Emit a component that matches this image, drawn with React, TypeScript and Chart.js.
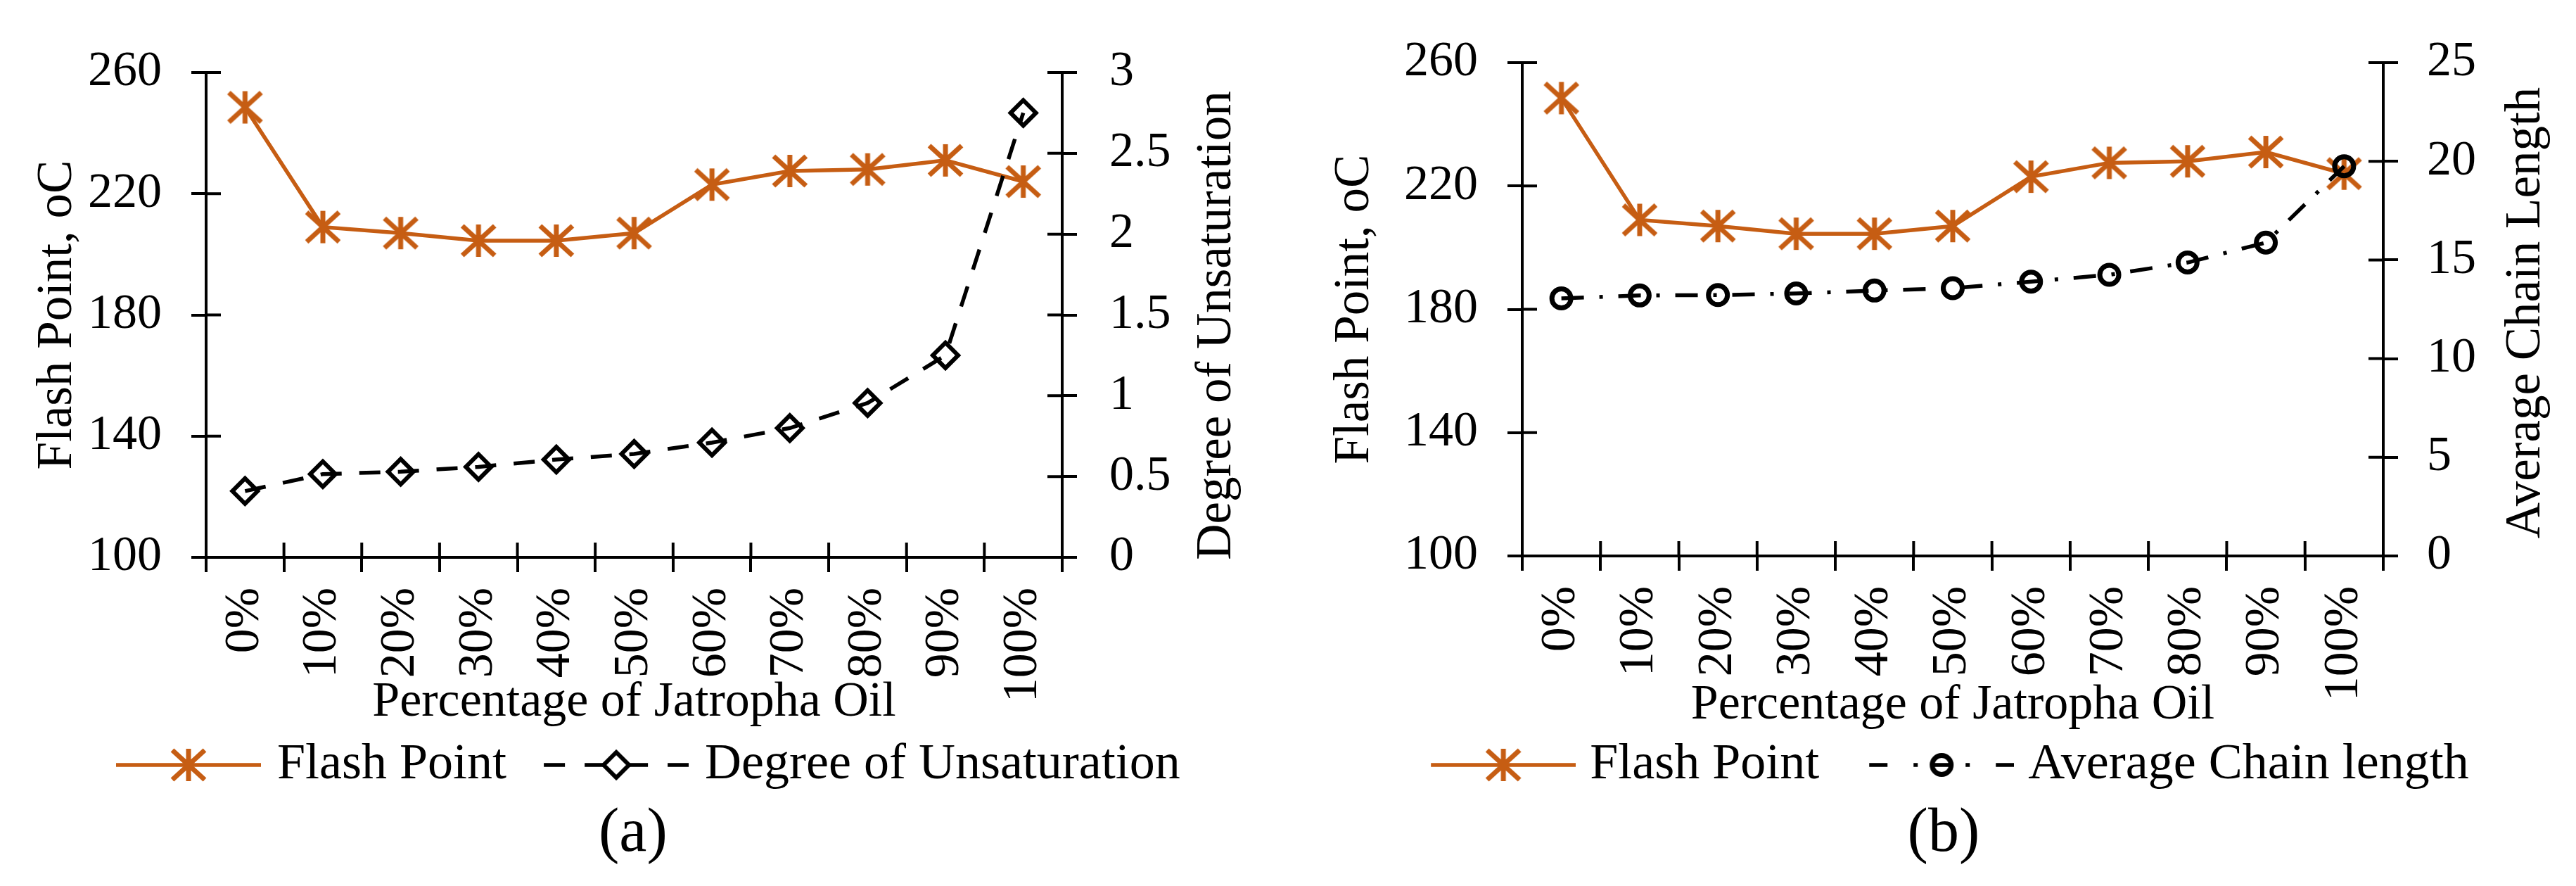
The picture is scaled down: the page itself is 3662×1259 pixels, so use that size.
import React, { useEffect, useRef } from 'react';
import { Chart, registerables } from 'chart.js';

Chart.register(...registerables);

// ---------------- data ----------------
const categories = ['0%', '10%', '20%', '30%', '40%', '50%', '60%', '70%', '80%', '90%', '100%'];
const flashPoint = [248.5, 209, 207, 204.5, 204.5, 207, 223, 227.5, 228, 231, 224];
const degreeOfUnsaturation = [0.41, 0.515, 0.53, 0.56, 0.605, 0.64, 0.71, 0.8, 0.955, 1.25, 2.75];
const averageChainLength = [13.05, 13.2, 13.22, 13.3, 13.45, 13.57, 13.9, 14.25, 14.87, 15.88, 19.75];

const flashAxisTicks = { min: 100, max: 260, step: 40 };
const unsaturationAxisTicks = { min: 0, max: 3, step: 0.5 };
const chainAxisTicks = { min: 0, max: 25, step: 5 };

// ---------------- style ----------------
const FONT = "'Liberation Serif', 'Times New Roman', serif";
const ORANGE = '#C65D13';
const BLACK = '#000000';
const W = 1831;
const H = 1259;
const SAMPLE_LEN = 206;
const LEGEND_H = 64;

function makeCanvas(w: number, h: number) {
  const c = document.createElement('canvas');
  c.width = w;
  c.height = h;
  return c;
}

function strokeStar(g: CanvasRenderingContext2D, cx: number, cy: number) {
  g.save();
  g.strokeStyle = ORANGE;
  g.lineWidth = 7;
  g.lineCap = 'butt';
  g.beginPath();
  g.moveTo(cx, cy - 23);
  g.lineTo(cx, cy + 23);
  g.moveTo(cx - 23, cy - 21);
  g.lineTo(cx + 23, cy + 21);
  g.moveTo(cx - 23, cy + 21);
  g.lineTo(cx + 23, cy - 21);
  g.stroke();
  g.restore();
}

function makeStarPoint() {
  const c = makeCanvas(60, 60);
  strokeStar(c.getContext('2d')!, 30, 30);
  return c;
}

function seg(g: CanvasRenderingContext2D, sx: number, a: number, b: number, y: number) {
  g.beginPath();
  g.moveTo(sx + a, y);
  g.lineTo(sx + b, y);
  g.stroke();
}

function legendFlash(imgW: number, sx: number) {
  const c = makeCanvas(imgW, LEGEND_H);
  const g = c.getContext('2d')!;
  const y = LEGEND_H / 2;
  g.strokeStyle = ORANGE;
  g.lineWidth = 5.5;
  seg(g, sx, 0, SAMPLE_LEN, y);
  strokeStar(g, sx + SAMPLE_LEN / 2, y);
  return c;
}

function legendUnsat(imgW: number, sx: number) {
  const c = makeCanvas(imgW, LEGEND_H);
  const g = c.getContext('2d')!;
  const y = LEGEND_H / 2;
  g.strokeStyle = BLACK;
  g.lineWidth = 5.5;
  seg(g, sx, 0, 30, y);
  seg(g, sx, 58, 85, y);
  seg(g, sx, 121, 148, y);
  seg(g, sx, 176, 206, y);
  const cx = sx + SAMPLE_LEN / 2;
  const r = 18;
  g.lineWidth = 6;
  g.beginPath();
  g.moveTo(cx, y - r);
  g.lineTo(cx + r, y);
  g.lineTo(cx, y + r);
  g.lineTo(cx - r, y);
  g.closePath();
  g.stroke();
  return c;
}

function legendChain(imgW: number, sx: number) {
  const c = makeCanvas(imgW, LEGEND_H);
  const g = c.getContext('2d')!;
  const y = LEGEND_H / 2;
  g.strokeStyle = BLACK;
  g.lineWidth = 5.5;
  seg(g, sx, 0, 26, y);
  seg(g, sx, 63, 69, y);
  seg(g, sx, 89, 117, y);
  seg(g, sx, 137, 143, y);
  seg(g, sx, 180, 206, y);
  g.lineWidth = 7;
  g.beginPath();
  g.arc(sx + SAMPLE_LEN / 2, y, 13.5, 0, Math.PI * 2);
  g.stroke();
  return c;
}

// ---------------- plugin: inner tick marks + right axis title ----------------
const axisExtras = {
  id: 'axisExtras',
  beforeDatasetsDraw(chart: any, _args: any, opts: any) {
    const ctx = chart.ctx;
    const ca = chart.chartArea;
    const len = opts.inner || 0;
    ctx.save();
    ctx.strokeStyle = BLACK;
    ctx.lineWidth = 4;
    ctx.beginPath();
    ['y', 'y1'].forEach((id) => {
      const s = chart.scales[id];
      if (!s) return;
      const left = s.position === 'left';
      const x0 = left ? ca.left : ca.right;
      s.ticks.forEach((t: any) => {
        const y = s.getPixelForValue(t.value);
        ctx.moveTo(x0, y);
        ctx.lineTo(x0 + (left ? len : -len), y);
      });
    });
    const xs = chart.scales.x;
    const n = xs.ticks.length;
    for (let i = 0; i <= n; i++) {
      const x = xs.left + (xs.width * i) / n;
      ctx.moveTo(x, ca.bottom);
      ctx.lineTo(x, ca.bottom - len);
    }
    ctx.stroke();
    ctx.restore();
  },
  afterDraw(chart: any, _args: any, opts: any) {
    const s = chart.scales.y1;
    if (!s || !opts.rightTitle) return;
    const ca = chart.chartArea;
    const ctx = chart.ctx;
    ctx.save();
    ctx.font = `normal ${opts.titleSize}px ${FONT}`;
    ctx.fillStyle = BLACK;
    ctx.textAlign = 'center';
    ctx.textBaseline = 'alphabetic';
    ctx.translate(s.left + opts.rightTitleOffset, (ca.top + ca.bottom) / 2 + (opts.rightTitleShift || 0));
    ctx.rotate(-Math.PI / 2);
    ctx.fillText(opts.rightTitle, 0, 0);
    ctx.restore();
  },
};

// ---------------- panels ----------------
type Geo = {
  padL: number; padR: number; padT: number;
  leftW: number; rightW: number; xH: number; xTitlePad: number;
  leftTickPad: number; rightTickPad: number;
  rightTitleOffset: number; rightTitleShift: number;
  legendPad: number; legendBox: number; legendImgW: number; legendSampleX: number;
};

type PanelSpec = {
  caption: string;
  secondTitle: string;
  secondLegend: string;
  secondData: number[];
  secondTicks: { min: number; max: number; step: number };
  kind: 'unsat' | 'chain';
  geo: Geo;
};

const panels: PanelSpec[] = [
  {
    caption: '(a)',
    secondTitle: 'Degree of Unsaturation',
    secondLegend: 'Degree of Unsaturation',
    secondData: degreeOfUnsaturation,
    secondTicks: unsaturationAxisTicks,
    kind: 'unsat',
    geo: {
      padL: 39.8, padR: 71, padT: 103, leftW: 253.2, rightW: 250, xH: 249, xTitlePad: 0,
      leftTickPad: 42, rightTickPad: 46, rightTitleOffset: 239, rightTitleShift: 15,
      legendPad: 10, legendBox: 236, legendImgW: 262, legendSampleX: 56,
    },
  },
  {
    caption: '(b)',
    secondTitle: 'Average Chain Length',
    secondLegend: 'Average Chain length',
    secondData: averageChainLength,
    secondTicks: chainAxisTicks,
    kind: 'chain',
    geo: {
      padL: 52.8, padR: 20, padT: 89, leftW: 280.2, rightW: 254, xH: 208, xTitlePad: -47,
      leftTickPad: 42, rightTickPad: 41, rightTitleOffset: 222, rightTitleShift: 5,
      legendPad: 53, legendBox: 208, legendImgW: 240, legendSampleX: 34,
    },
  },
];

function axisCommon() {
  return {
    border: { display: true, color: BLACK, width: 4 },
    grid: {
      display: true,
      drawOnChartArea: false,
      drawTicks: true,
      tickLength: 21,
      tickWidth: 4,
      tickColor: BLACK,
      color: BLACK,
      lineWidth: 4,
    },
  };
}

function buildConfig(spec: PanelSpec): any {
  const g = spec.geo;
  const star = makeStarPoint();
  const secondDataset =
    spec.kind === 'unsat'
      ? {
          label: spec.secondLegend,
          data: spec.secondData,
          yAxisID: 'y1',
          order: 0,
          borderColor: BLACK,
          borderWidth: 5.5,
          borderDash: [30, 25],
          pointStyle: 'rectRot',
          pointRadius: 18,
          pointBorderWidth: 6,
          pointBorderColor: BLACK,
          pointBackgroundColor: 'rgba(0,0,0,0)',
          tension: 0,
          fill: false,
        }
      : {
          label: spec.secondLegend,
          data: spec.secondData,
          yAxisID: 'y1',
          order: 0,
          borderColor: BLACK,
          borderWidth: 5.5,
          borderDash: [32, 22, 5, 22],
          pointStyle: 'circle',
          pointRadius: 13.5,
          pointBorderWidth: 7,
          pointBorderColor: BLACK,
          pointBackgroundColor: 'rgba(0,0,0,0)',
          tension: 0,
          fill: false,
        };

  const legendImages = [
    legendFlash(g.legendImgW, g.legendSampleX),
    spec.kind === 'unsat'
      ? legendUnsat(g.legendImgW, g.legendSampleX)
      : legendChain(g.legendImgW, g.legendSampleX),
  ];
  const legendTexts = ['Flash Point', spec.secondLegend];

  return {
    type: 'line',
    data: {
      labels: categories,
      datasets: [
        {
          label: 'Flash Point',
          data: flashPoint,
          yAxisID: 'y',
          order: 1,
          borderColor: ORANGE,
          borderWidth: 5.5,
          pointStyle: star,
          pointRadius: 25,
          pointBorderColor: ORANGE,
          pointBackgroundColor: ORANGE,
          tension: 0,
          fill: false,
        },
        secondDataset,
      ],
    },
    options: {
      animation: false,
      responsive: false,
      maintainAspectRatio: false,
      devicePixelRatio: 1,
      events: [],
      layout: { padding: { left: g.padL, right: g.padR, top: g.padT, bottom: 0 } },
      scales: {
        x: {
          ...axisCommon(),
          type: 'category',
          offset: true,
          grid: { ...axisCommon().grid, offset: true },
          afterFit: (s: any) => { s.height = g.xH; },
          ticks: {
            autoSkip: false,
            minRotation: 90,
            maxRotation: 90,
            padding: 22,
            color: BLACK,
            font: { family: FONT, size: 70 },
          },
          title: {
            display: true,
            text: 'Percentage of Jatropha Oil',
            color: BLACK,
            font: { family: FONT, size: 70, weight: 'normal' },
            padding: { top: 0, bottom: g.xTitlePad },
          },
        },
        y: {
          ...axisCommon(),
          type: 'linear',
          position: 'left',
          min: flashAxisTicks.min,
          max: flashAxisTicks.max,
          afterFit: (s: any) => { s.width = g.leftW; },
          ticks: {
            stepSize: flashAxisTicks.step,
            padding: g.leftTickPad,
            color: BLACK,
            font: { family: FONT, size: 70 },
            callback: (v: any) => String(v),
          },
          title: {
            display: true,
            text: 'Flash Point, oC',
            color: BLACK,
            font: { family: FONT, size: 71, weight: 'normal' },
            padding: { top: 0, bottom: 0 },
          },
        },
        y1: {
          ...axisCommon(),
          type: 'linear',
          position: 'right',
          min: spec.secondTicks.min,
          max: spec.secondTicks.max,
          afterFit: (s: any) => { s.width = g.rightW; },
          ticks: {
            stepSize: spec.secondTicks.step,
            padding: g.rightTickPad,
            color: BLACK,
            font: { family: FONT, size: 70 },
            callback: (v: any) => String(v),
          },
          title: { display: false },
        },
      },
      plugins: {
        tooltip: { enabled: false },
        legend: {
          display: true,
          position: 'bottom',
          labels: {
            usePointStyle: true,
            pointStyleWidth: g.legendBox,
            padding: g.legendPad,
            color: BLACK,
            font: { family: FONT, size: 72, weight: 'normal' },
            generateLabels: () =>
              legendTexts.map((t, i) => ({
                text: t,
                pointStyle: legendImages[i],
                fillStyle: 'rgba(0,0,0,0)',
                strokeStyle: 'rgba(0,0,0,0)',
                lineWidth: 0,
                hidden: false,
                datasetIndex: i,
                fontColor: BLACK,
              })),
          },
        },
        title: {
          display: true,
          position: 'bottom',
          text: spec.caption,
          color: BLACK,
          font: { family: FONT, size: 88, weight: 'normal' },
          padding: { top: 0, bottom: 20.4 },
        },
        axisExtras: {
          inner: 21,
          rightTitle: spec.secondTitle,
          rightTitleOffset: g.rightTitleOffset,
          rightTitleShift: g.rightTitleShift,
          titleSize: 71,
        },
      },
    },
    plugins: [axisExtras],
  };
}

function Panel({ spec }: { spec: PanelSpec }) {
  const ref = useRef<HTMLCanvasElement>(null);
  useEffect(() => {
    if (!ref.current) return;
    const chart = new Chart(ref.current, buildConfig(spec));
    return () => chart.destroy();
  }, [spec]);
  return (
    <div style={{ width: W, height: H, flex: '0 0 auto' }}>
      <canvas ref={ref} width={W} height={H} style={{ width: W, height: H, display: 'block' }} />
    </div>
  );
}

export default function App() {
  return (
    <div
      style={{
        position: 'fixed',
        left: 0,
        top: 0,
        width: W * 2,
        height: H,
        display: 'flex',
        background: '#ffffff',
        overflow: 'hidden',
      }}
    >
      {panels.map((p) => (
        <Panel key={p.caption} spec={p} />
      ))}
    </div>
  );
}
